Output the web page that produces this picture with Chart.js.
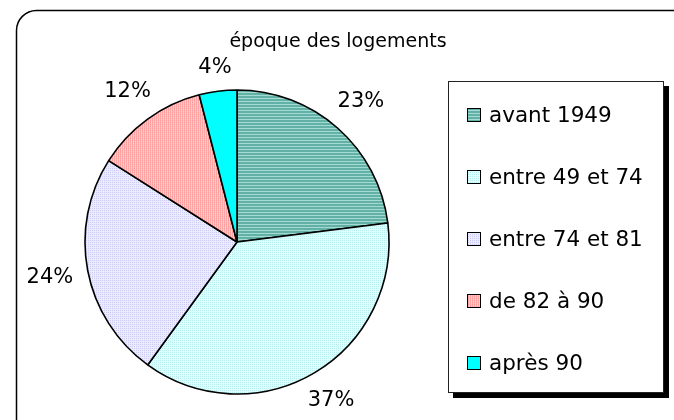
<!DOCTYPE html>
<html>
<head>
<meta charset="utf-8">
<script src="https://cdn.jsdelivr.net/npm/chart.js@4.4.0/dist/chart.umd.min.js"></script>
<style>
  html, body { margin: 0; padding: 0; background: #fff; }
  canvas { display: block; }
</style>
</head>
<body>
<canvas id="camembert" width="674" height="420"></canvas>
<script>
const titre = 'époque des logements';
const categories = ['avant 1949', 'entre 49 et 74', 'entre 74 et 81', 'de 82 à 90', 'après 90'];
const valeurs = [23, 37, 24, 12, 4];

const POLICE = '"DejaVu Sans", Verdana, sans-serif';

// petits motifs façon Excel
function motif(w, h, fond, points) {
  const c = document.createElement('canvas');
  c.width = w; c.height = h;
  const g = c.getContext('2d');
  g.fillStyle = fond;
  g.fillRect(0, 0, w, h);
  points.forEach(([x, y, col]) => { g.fillStyle = col; g.fillRect(x, y, 1, 1); });
  return g.createPattern(c, 'repeat');
}

const remplissages = [
  motif(1, 3, '#63b1a6', [[0, 2, '#a3dad2']]),
  motif(2, 2, '#dcffff', [[0, 0, '#b8eeee']]),
  motif(2, 2, '#ececff', [[0, 0, '#cacaf2']]),
  motif(2, 2, '#ffcaca', [[0, 0, '#ff9c9c'], [0, 1, '#ffaaaa']]),
  '#00ffff'
];

const cadre = {
  id: 'cadre',
  beforeDraw(chart) {
    const ctx = chart.ctx;
    ctx.save();
    ctx.fillStyle = '#fff';
    ctx.fillRect(0, 0, chart.width, chart.height);
    ctx.strokeStyle = '#000';
    ctx.lineWidth = 1.5;
    ctx.beginPath();
    ctx.roundRect(16.5, 10.5, 700, 440, 20);
    ctx.stroke();
    ctx.restore();
  },
  afterDraw(chart) {
    const ctx = chart.ctx;
    const meta = chart.getDatasetMeta(0);
    const total = valeurs.reduce((a, b) => a + b, 0);
    ctx.save();

    // titre
    ctx.fillStyle = '#000';
    ctx.font = '19px ' + POLICE;
    ctx.textAlign = 'center';
    ctx.textBaseline = 'middle';
    ctx.fillText(titre, 338, 42);

    // étiquettes de pourcentage autour du camembert
    ctx.font = '21px ' + POLICE;
    meta.data.forEach((arc, i) => {
      const p = arc.getProps(['x', 'y', 'startAngle', 'endAngle', 'outerRadius'], true);
      const mid = (p.startAngle + p.endAngle) / 2;
      const txt = Math.round(valeurs[i] / total * 100) + '%';
      const w = ctx.measureText(txt).width;
      const cx = Math.cos(mid), sy = Math.sin(mid);
      const d = p.outerRadius + 14 + Math.abs(cx) * w / 2 + Math.abs(sy) * 8;
      ctx.fillText(txt, p.x + cx * d, p.y + sy * d);
    });

    // légende encadrée avec ombre
    const L = 448, T = 81, W = 216, H = 312;
    ctx.fillStyle = '#000';
    ctx.fillRect(L + 5, T + 5, W, H);
    ctx.fillStyle = '#fff';
    ctx.fillRect(L, T, W, H);
    ctx.strokeStyle = '#222';
    ctx.lineWidth = 1;
    ctx.strokeRect(L + 0.5, T + 0.5, W - 1, H - 1);

    ctx.font = '21.5px ' + POLICE;
    ctx.textAlign = 'left';
    categories.forEach((lab, i) => {
      const y = T + 34 + i * 62;
      ctx.fillStyle = remplissages[i];
      ctx.fillRect(467, y - 7, 14, 14);
      ctx.strokeStyle = '#000';
      ctx.strokeRect(467.5, y - 6.5, 13, 13);
      ctx.fillStyle = '#000';
      ctx.fillText(lab, 489, y + 1);
    });
    ctx.restore();
  }
};

new Chart(document.getElementById('camembert'), {
  type: 'pie',
  data: {
    labels: categories,
    datasets: [{
      data: valeurs,
      backgroundColor: remplissages,
      borderColor: '#000',
      borderWidth: 1.6,
      radius: 152,
      hoverOffset: 0
    }]
  },
  options: {
    responsive: false,
    animation: false,
    events: [],
    layout: { padding: { left: 0, right: 200, top: 64, bottom: 0 } },
    plugins: {
      legend: { display: false },
      title: { display: false },
      tooltip: { enabled: false }
    }
  },
  plugins: [cadre]
});
</script>
</body>
</html>
